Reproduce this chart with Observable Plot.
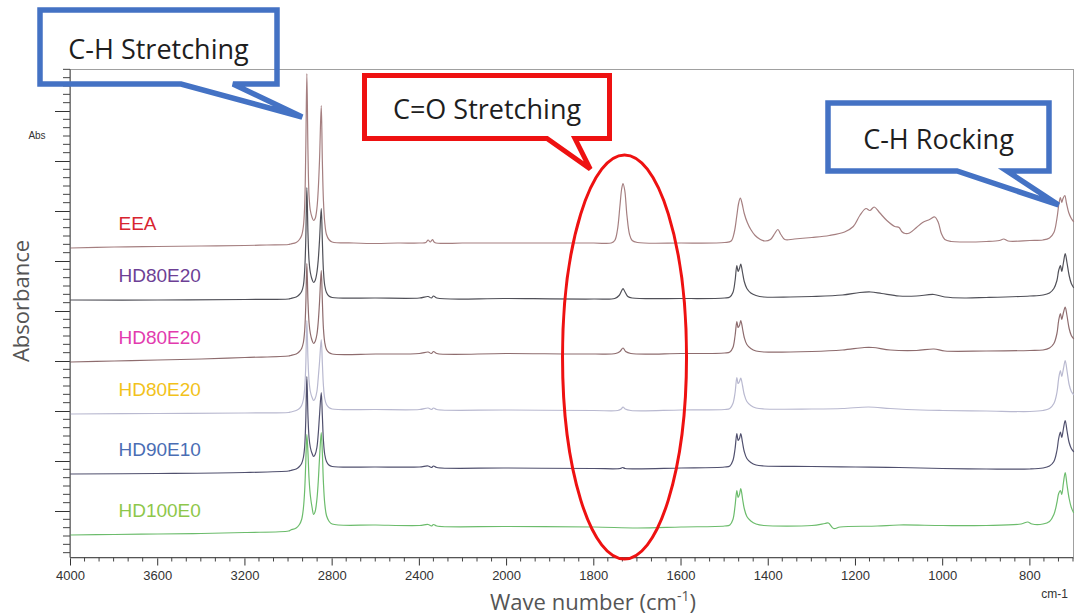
<!DOCTYPE html>
<html>
<head>
<meta charset="utf-8">
<script src="https://cdn.jsdelivr.net/npm/d3@7"></script>
<script src="https://cdn.jsdelivr.net/npm/@observablehq/plot@0.6"></script>
<style>
  html, body { margin: 0; padding: 0; background: #fff; }
  svg { display: block; }
</style>
</head>
<body>
<div id="chart"></div>
<script>
// FTIR spectra of EEA / HDPE blends, stacked with vertical offsets (absorbance, a.u.)
const seriesNames = ["EEA", "HD80E20", "HD80E20", "HD80E20", "HD90E10", "HD100E0"];
const lineColors  = ["#a57f80", "#505058", "#8e6c6e", "#b9b9d0", "#50506e", "#6cbc6c"];
const labelColors = ["#d8242f", "#6d3f95", "#e23aae", "#f2c21a", "#4a6db4", "#8ec74a"];

// [wavenumber cm-1, absorbance]
const eea = [
  [4000,0.627],[3800,0.629],[3600,0.630],[3400,0.631],[3200,0.632],[3100,0.633],[3000,0.634],
  [2990,0.635],[2965,0.638],[2950,0.644],[2940,0.652],[2932,0.670],[2926,0.712],[2921,0.822],
  [2916,0.976],[2911,0.822],[2906,0.732],[2900,0.702],[2892,0.688],[2885,0.682],[2878,0.686],
  [2870,0.706],[2864,0.742],[2858,0.802],[2850,0.912],[2845,0.802],[2840,0.722],[2834,0.678],
  [2826,0.654],[2815,0.644],[2800,0.639],[2700,0.637],[2600,0.636],[2500,0.637],[2400,0.637],
  [2370,0.638],[2360,0.643],[2350,0.639],[2340,0.644],[2330,0.638],[2200,0.637],[2000,0.637],
  [1800,0.637],[1760,0.637],[1752,0.642],[1746,0.662],[1740,0.712],[1736,0.746],[1733,0.756],
  [1729,0.742],[1724,0.692],[1718,0.654],[1712,0.642],[1700,0.638],[1600,0.637],[1500,0.638],
  [1485,0.641],[1478,0.658],[1472,0.692],[1468,0.716],[1464,0.727],[1460,0.716],[1455,0.696],
  [1448,0.678],[1440,0.664],[1430,0.652],[1418,0.644],[1408,0.641],[1395,0.644],[1385,0.656],
  [1378,0.664],[1371,0.654],[1362,0.644],[1340,0.645],[1300,0.648],[1260,0.652],[1225,0.659],
  [1205,0.670],[1190,0.692],[1176,0.706],[1167,0.702],[1157,0.709],[1145,0.698],[1128,0.682],
  [1110,0.670],[1100,0.668],[1094,0.660],[1086,0.656],[1076,0.657],[1060,0.668],[1046,0.678],
  [1030,0.684],[1018,0.689],[1010,0.678],[1003,0.656],[995,0.644],[980,0.640],[955,0.639],
  [900,0.640],[870,0.642],[860,0.645],[850,0.641],[800,0.642],[770,0.643],[755,0.647],
  [745,0.658],[738,0.686],[733,0.718],[730,0.728],[727,0.718],[724,0.726],[720,0.732],
  [716,0.716],[711,0.698],[705,0.686],[700,0.680]
];

const hd80e20a = [
  [4000,0.523],[3600,0.523],[3200,0.524],[3000,0.525],[2990,0.526],[2965,0.529],[2950,0.534],
  [2940,0.540],[2932,0.552],[2926,0.582],[2921,0.642],[2916,0.748],[2911,0.658],[2906,0.602],
  [2900,0.578],[2892,0.564],[2885,0.558],[2878,0.562],[2870,0.578],[2864,0.602],[2858,0.642],
  [2850,0.706],[2845,0.642],[2840,0.582],[2834,0.552],[2826,0.538],[2815,0.531],[2800,0.528],
  [2600,0.527],[2400,0.527],[2360,0.530],[2345,0.527],[2335,0.531],[2320,0.527],[2000,0.526],
  [1800,0.525],[1752,0.526],[1742,0.532],[1736,0.542],[1733,0.546],[1729,0.540],[1722,0.530],
  [1712,0.527],[1600,0.526],[1500,0.527],[1488,0.529],[1481,0.538],[1476,0.562],[1472,0.592],
  [1469,0.580],[1466,0.586],[1463,0.595],[1459,0.578],[1455,0.560],[1449,0.546],[1440,0.537],
  [1428,0.532],[1410,0.529],[1350,0.529],[1300,0.530],[1230,0.533],[1190,0.538],[1165,0.539],
  [1140,0.536],[1100,0.531],[1060,0.531],[1020,0.534],[995,0.529],[950,0.527],[900,0.528],
  [800,0.531],[770,0.533],[755,0.537],[745,0.546],[738,0.562],[734,0.582],[730,0.592],
  [727,0.580],[723,0.598],[719,0.616],[715,0.598],[710,0.572],[705,0.556],[700,0.548]
];

const hd80e20b = [
  [4000,0.399],[3800,0.401],[3600,0.403],[3400,0.405],[3200,0.408],[3000,0.411],[2990,0.412],
  [2965,0.415],[2950,0.420],[2940,0.426],[2932,0.438],[2926,0.462],[2921,0.512],[2916,0.596],
  [2911,0.522],[2906,0.478],[2900,0.456],[2892,0.442],[2885,0.436],[2878,0.440],[2870,0.454],
  [2864,0.478],[2858,0.518],[2850,0.582],[2845,0.522],[2840,0.466],[2834,0.438],[2826,0.424],
  [2815,0.418],[2800,0.415],[2600,0.415],[2400,0.416],[2360,0.419],[2345,0.416],[2335,0.420],
  [2320,0.416],[2000,0.416],[1800,0.415],[1750,0.416],[1740,0.420],[1733,0.427],[1727,0.420],
  [1715,0.416],[1600,0.416],[1500,0.417],[1488,0.419],[1481,0.428],[1476,0.452],[1472,0.480],
  [1469,0.468],[1466,0.472],[1463,0.482],[1459,0.466],[1455,0.448],[1449,0.434],[1440,0.426],
  [1428,0.421],[1410,0.419],[1300,0.420],[1230,0.423],[1180,0.428],[1160,0.428],[1120,0.423],
  [1060,0.422],[1020,0.425],[995,0.421],[900,0.421],[800,0.422],[770,0.423],[755,0.427],
  [745,0.436],[738,0.456],[734,0.482],[730,0.496],[727,0.484],[723,0.498],[719,0.509],
  [715,0.492],[710,0.466],[705,0.452],[700,0.446]
];

const hd80e20c = [
  [4000,0.295],[3600,0.296],[3200,0.297],[3000,0.298],[2990,0.299],[2965,0.302],[2950,0.306],
  [2940,0.312],[2932,0.324],[2926,0.346],[2921,0.392],[2916,0.482],[2911,0.406],[2906,0.362],
  [2900,0.340],[2892,0.328],[2885,0.322],[2878,0.326],[2870,0.340],[2864,0.366],[2858,0.398],
  [2850,0.444],[2845,0.398],[2840,0.352],[2834,0.326],[2826,0.314],[2815,0.308],[2800,0.305],
  [2600,0.304],[2400,0.304],[2360,0.307],[2345,0.304],[2335,0.307],[2320,0.304],[2000,0.303],
  [1800,0.302],[1745,0.302],[1737,0.305],[1733,0.309],[1728,0.305],[1715,0.302],[1600,0.303],
  [1500,0.304],[1488,0.306],[1481,0.316],[1476,0.338],[1472,0.368],[1469,0.356],[1466,0.360],
  [1463,0.367],[1459,0.352],[1455,0.334],[1449,0.320],[1440,0.312],[1428,0.307],[1410,0.305],
  [1300,0.305],[1230,0.306],[1170,0.309],[1120,0.306],[1050,0.303],[1000,0.302],[900,0.301],
  [800,0.300],[770,0.302],[755,0.306],[745,0.316],[738,0.338],[734,0.366],[730,0.382],
  [727,0.370],[723,0.386],[719,0.402],[715,0.382],[710,0.354],[705,0.340],[700,0.334]
];

const hd90e10 = [
  [4000,0.175],[3600,0.176],[3200,0.178],[3000,0.181],[2990,0.182],[2965,0.185],[2950,0.190],
  [2940,0.196],[2932,0.208],[2926,0.230],[2921,0.282],[2916,0.370],[2911,0.292],[2906,0.248],
  [2900,0.228],[2892,0.216],[2885,0.210],[2878,0.214],[2870,0.228],[2864,0.254],[2858,0.292],
  [2850,0.338],[2845,0.292],[2840,0.242],[2834,0.214],[2826,0.200],[2815,0.193],[2800,0.190],
  [2600,0.189],[2400,0.189],[2360,0.191],[2345,0.188],[2335,0.191],[2320,0.188],[2000,0.187],
  [1800,0.186],[1740,0.186],[1734,0.188],[1728,0.186],[1600,0.187],[1500,0.189],[1488,0.191],
  [1481,0.202],[1476,0.226],[1472,0.256],[1469,0.242],[1466,0.246],[1463,0.256],[1459,0.238],
  [1455,0.220],[1449,0.206],[1440,0.198],[1428,0.193],[1410,0.191],[1300,0.190],[1200,0.189],
  [1100,0.188],[1000,0.186],[900,0.185],[800,0.185],[770,0.187],[755,0.191],[745,0.200],
  [738,0.222],[734,0.246],[730,0.259],[727,0.248],[723,0.266],[719,0.282],[715,0.262],
  [710,0.238],[705,0.226],[700,0.220]
];

const hd100e0 = [
  [4000,0.053],[3800,0.054],[3600,0.055],[3400,0.056],[3200,0.058],[3000,0.061],[2990,0.063],
  [2965,0.067],[2950,0.074],[2940,0.084],[2932,0.106],[2926,0.142],[2921,0.198],[2916,0.254],
  [2911,0.218],[2906,0.166],[2900,0.132],[2892,0.108],[2885,0.094],[2878,0.100],[2870,0.124],
  [2864,0.158],[2858,0.206],[2850,0.258],[2845,0.218],[2840,0.158],[2834,0.116],[2826,0.092],
  [2815,0.081],[2800,0.075],[2600,0.073],[2400,0.072],[2360,0.074],[2345,0.071],[2335,0.074],
  [2320,0.071],[2000,0.070],[1800,0.069],[1700,0.067],[1600,0.069],[1500,0.071],[1488,0.073],
  [1481,0.084],[1476,0.112],[1472,0.142],[1469,0.128],[1466,0.134],[1463,0.146],[1459,0.126],
  [1455,0.106],[1449,0.090],[1440,0.081],[1428,0.075],[1410,0.072],[1300,0.072],[1270,0.076],
  [1262,0.077],[1250,0.066],[1235,0.069],[1150,0.071],[1100,0.073],[1000,0.072],[900,0.072],
  [820,0.075],[805,0.079],[795,0.075],[770,0.075],[755,0.080],[745,0.094],[738,0.118],
  [734,0.136],[730,0.142],[727,0.134],[723,0.158],[719,0.178],[715,0.154],[710,0.126],
  [705,0.108],[700,0.098]
];

const spectra = [eea, hd80e20a, hd80e20b, hd80e20c, hd90e10, hd100e0];

const xTicks = [4000, 3600, 3200, 2800, 2400, 2000, 1800, 1600, 1400, 1200, 1000, 800];
const yTicks = [0.1, 0.2, 0.3, 0.4, 0.5, 0.6, 0.7, 0.8, 0.9];

// Band annotations: callout text and where its pointer lands (wavenumber, absorbance)
const callouts = [
  {text: "C-H Stretching", color: "#4472c4", tipWn: 2935, tipAbs: 0.888},
  {text: "C=O Stretching", color: "#ee1111", tipWn: 1807, tipAbs: 0.784},
  {text: "C-H Rocking",    color: "#4472c4", tipWn: 733,  tipAbs: 0.712}
];
const carbonylBand = 1733;

// ---- layout ----
const W = 1079, H = 616;
const margin = {top: 69, right: 6, bottom: 58.5, left: 70};

// The wavenumber axis is expanded two-fold below 2000 cm-1:
// u runs 0..2000 over 4000..2000 cm-1, then 2000..4600 over 2000..700 cm-1.
const BREAK = 2000, WN_MAX = 4000, WN_MIN = 700;
const toU = wn => wn >= BREAK ? WN_MAX - wn : (WN_MAX - BREAK) + 2 * (BREAK - wn);
const fromU = u => u <= WN_MAX - BREAK ? WN_MAX - u : BREAK - (u - (WN_MAX - BREAK)) / 2;
const uDomain = [toU(WN_MAX), toU(WN_MIN)];
const yDomain = [0.007, 0.984];

const rowsOf = s => s.map(([wn, abs]) => ({wn, abs}));

const chart = Plot.plot({
  width: W,
  height: H,
  marginTop: margin.top,
  marginRight: margin.right,
  marginBottom: margin.bottom,
  marginLeft: margin.left,
  style: {fontFamily: "'Liberation Sans', Arial, sans-serif", fontSize: "13px", color: "#333", background: "#fff", overflow: "visible"},
  x: {domain: uDomain, transform: toU, ticks: xTicks.map(toU), tickSize: 8, tickPadding: 5,
      tickFormat: u => String(Math.round(fromU(u))), label: null},
  y: {domain: yDomain, ticks: yTicks, tickSize: 15, tickFormat: () => "", label: null},
  marks: [
    Plot.frame({stroke: "#a0a0a0"}),
    ...spectra.map((s, i) => Plot.line(rowsOf(s), {
      x: "wn", y: "abs", stroke: lineColors[i], strokeWidth: 1.2, curve: "catmull-rom"
    })),
    Plot.text(spectra.map((s, i) => ({name: seriesNames[i], abs: s[0][1], i})), {
      x: () => 3780, y: "abs", dy: -24, text: "name", textAnchor: "start",
      fill: d => labelColors[d.i], fontSize: 19, fontFamily: "'Liberation Sans', Arial, sans-serif"
    })
  ]
});

document.getElementById("chart").appendChild(chart);

// ---- axis lines, minor ticks, titles and callouts drawn with the same scales ----
const svg = d3.select(chart);
const uScale = d3.scaleLinear().domain(uDomain).range([margin.left, W - margin.right]);
const xs = wn => uScale(toU(wn));
const ys = d3.scaleLinear().domain(yDomain).range([H - margin.bottom, margin.top]);
const bottom = H - margin.bottom;

svg.append("line").attr("x1", margin.left).attr("x2", margin.left).attr("y1", margin.top).attr("y2", bottom).attr("stroke", "#555");
svg.append("line").attr("x1", margin.left).attr("x2", W - margin.right).attr("y1", bottom).attr("y2", bottom).attr("stroke", "#555");

const minorX = [];
for (let k = 1; 4000 - k * 400 / 6 > 2000 + 1e-6; k++) if (k % 6) minorX.push(4000 - k * 400 / 6);
for (let k = 1; 2000 - k * 200 / 6 >= 700 - 1e-6; k++) if (k % 6) minorX.push(2000 - k * 200 / 6);
svg.append("g").attr("stroke", "#444").selectAll("line").data(minorX).join("line")
  .attr("x1", d => xs(d)).attr("x2", d => xs(d)).attr("y1", bottom).attr("y2", bottom + 4);

const minorY = [];
for (let k = -10; k < 80; k++) {
  const v = 0.1 + k * 0.1 / 6;
  if (v > yDomain[0] && v < yDomain[1] && ((k % 6) + 6) % 6 !== 0) minorY.push(v);
}
svg.append("g").attr("stroke", "#444").selectAll("line").data(minorY).join("line")
  .attr("x1", margin.left - 7).attr("x2", margin.left).attr("y1", d => ys(d)).attr("y2", d => ys(d));

svg.append("text").attr("x", 37).attr("y", 139).attr("text-anchor", "middle")
  .attr("font-family", "'Liberation Sans', Arial, sans-serif").attr("font-size", 10).attr("fill", "#333").text("Abs");

svg.append("text").attr("transform", "translate(29,301) rotate(-90)").attr("text-anchor", "middle")
  .attr("font-family", "'Open Sans', sans-serif").attr("font-size", 22).attr("fill", "#555").text("Absorbance");

const xt = svg.append("text").attr("x", 593).attr("y", 610).attr("text-anchor", "middle")
  .attr("font-family", "'Open Sans', sans-serif").attr("font-size", 22).attr("fill", "#555");
xt.append("tspan").text("Wave number (cm");
xt.append("tspan").attr("font-size", 14).attr("dy", -9).text("-1");
xt.append("tspan").attr("dy", 9).text(")");

svg.append("text").attr("x", 1068).attr("y", 598).attr("text-anchor", "end")
  .attr("font-family", "'Liberation Sans', Arial, sans-serif").attr("font-size", 12).attr("fill", "#333").text("cm-1");

// callout boxes: [x0, y0, x1, y1] and the two feet of the pointer on the bottom edge
const boxes = [
  {box: [40, 10, 277, 84], feet: [181, 233], width: 5.5},
  {box: [364.5, 75.5, 609.5, 138.5], feet: [547, 575], width: 5},
  {box: [828, 103, 1049, 171], feet: [957, 1007], width: 5.5}
];
callouts.forEach((c, i) => {
  const {box: [x0, y0, x1, y1], feet: [f0, f1], width} = boxes[i];
  const tx = xs(c.tipWn), ty = ys(c.tipAbs);
  const p = d3.path();
  p.moveTo(x0, y0); p.lineTo(x1, y0); p.lineTo(x1, y1); p.lineTo(f1, y1);
  p.lineTo(tx, ty); p.lineTo(f0, y1); p.lineTo(x0, y1); p.closePath();
  svg.append("path").attr("d", p.toString()).attr("fill", "none")
    .attr("stroke", c.color).attr("stroke-width", width).attr("stroke-linejoin", "miter");
  svg.append("text").attr("x", (x0 + x1) / 2).attr("y", (y0 + y1) / 2 + 1)
    .attr("text-anchor", "middle").attr("dominant-baseline", "central")
    .attr("font-family", "'Open Sans', sans-serif").attr("font-size", 27).attr("fill", "#1e1e1e").text(c.text);
});

// ring around the carbonyl band
svg.append("ellipse").attr("cx", xs(carbonylBand) + 2).attr("cy", 357).attr("rx", 62).attr("ry", 202)
  .attr("fill", "none").attr("stroke", "#ee1111").attr("stroke-width", 3);
</script>
